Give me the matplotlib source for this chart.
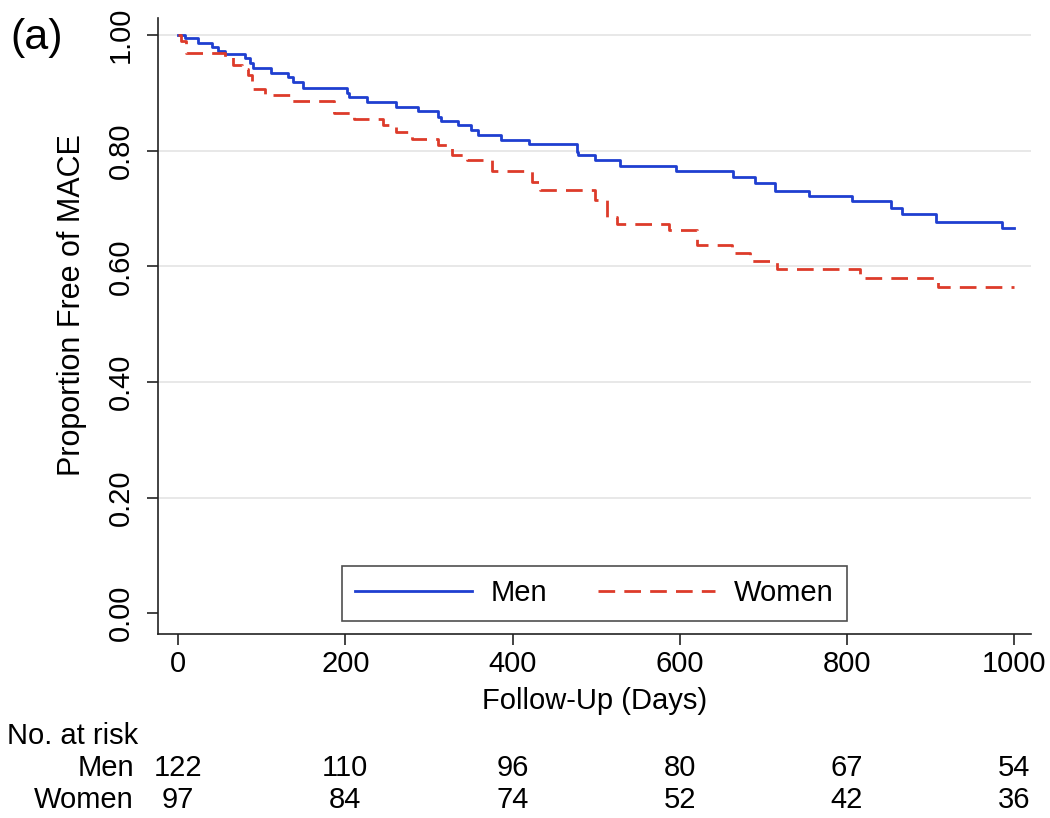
import matplotlib
matplotlib.use("Agg")
import matplotlib.pyplot as plt
import matplotlib.transforms as mtransforms
import numpy as np

plt.rcParams['font.family'] = ['Liberation Sans', 'DejaVu Sans']

# Kaplan-Meier steps (day of step, proportion free after it)
men_days = [0, 8, 24, 40, 48, 56, 80, 86, 90, 111, 132, 138, 149, 202, 204, 226,
            261, 287, 311, 314, 335, 350, 359, 386, 420, 477, 478, 499, 529, 596,
            664, 690, 714, 755, 806, 853, 866, 906, 985]
men_surv = [1.000, 0.994, 0.987, 0.980, 0.973, 0.967, 0.960, 0.952, 0.943, 0.934,
            0.927, 0.919, 0.909, 0.900, 0.892, 0.884, 0.876, 0.869, 0.858, 0.852,
            0.844, 0.836, 0.827, 0.818, 0.811, 0.798, 0.792, 0.784, 0.773, 0.765,
            0.754, 0.744, 0.731, 0.721, 0.713, 0.701, 0.690, 0.677, 0.666]

women_days = [0, 4, 9, 56, 66, 76, 84, 88, 90, 104, 136, 186, 210, 245, 261, 280,
              311, 328, 345, 375, 423, 433, 499, 513, 525, 587, 620, 662, 684, 716,
              816, 909]
women_surv = [1.000, 0.990, 0.969, 0.962, 0.949, 0.942, 0.931, 0.920, 0.906, 0.896,
              0.886, 0.865, 0.855, 0.845, 0.833, 0.821, 0.810, 0.792, 0.784, 0.765,
              0.745, 0.732, 0.715, 0.686, 0.674, 0.662, 0.637, 0.623, 0.609, 0.595,
              0.580, 0.565]

follow_up_end = 1000

risk_days = [0, 200, 400, 600, 800, 1000]
men_risk = [122, 110, 96, 80, 67, 54]
women_risk = [97, 84, 74, 52, 42, 36]

y_ticks = [0.0, 0.2, 0.4, 0.6, 0.8, 1.0]

men_color = '#1f3fd0'
women_color = '#dd3b2a'
fs = 21

fig = plt.figure(figsize=(10.5, 8.18), dpi=100)
ax = fig.add_axes([0.1505, 0.2249, 0.8314, 0.7535])

ax.step(np.append(men_days, follow_up_end), np.append(men_surv, men_surv[-1]),
        where='post', color=men_color, lw=2.0, label='Men')
ax.step(np.append(women_days, follow_up_end), np.append(women_surv, women_surv[-1]),
        where='post', color=women_color, lw=2.0, linestyle=(0, (6, 3.3)), label='Women')

ax.set_xlim(-24, 1020)
ax.set_ylim(-0.036, 1.030)
ax.set_xticks(risk_days)
ax.set_yticks(y_ticks)
ax.set_yticklabels(['%.2f' % v for v in y_ticks], rotation=90, va='center')

ax.yaxis.grid(True, color='#e4e4e4', lw=1.2)
ax.get_ygridlines()[0].set_visible(False)
ax.set_axisbelow(True)

for side in ['top', 'right']:
    ax.spines[side].set_visible(False)
for side in ['left', 'bottom']:
    ax.spines[side].set_linewidth(1.2)
    ax.spines[side].set_color('#222222')
ax.tick_params(axis='both', labelsize=fs, length=8, width=1.2, color='#222222')
ax.tick_params(axis='x', pad=3.5)
ax.tick_params(axis='y', pad=8.5)

ax.set_xlabel('Follow-Up (Days)', fontsize=fs)
ax.xaxis.label.set_va('center')
ax.xaxis.set_label_coords(0.5, -0.109)
ax.set_ylabel('Proportion Free of MACE', fontsize=fs + 1)
ax.yaxis.label.set_va('center')
ax.yaxis.set_label_coords(-0.0985, 0.534)

leg = ax.legend(loc='center', bbox_to_anchor=(0.566, 0.2745), bbox_transform=fig.transFigure,
                ncol=2, fontsize=fs, frameon=True, fancybox=False, handlelength=4.0,
                handletextpad=0.65, columnspacing=1.75, borderpad=0.45)
leg.get_frame().set_edgecolor('#222222')
leg.get_frame().set_linewidth(1.2)

fig.text(0.01, 0.953, '(a)', fontsize=31, va='center', ha='left')

# number at risk table under the axis
trans = mtransforms.blended_transform_factory(ax.transData, fig.transFigure)
fig.text(0.007, 0.100, 'No. at risk', fontsize=fs, va='center', ha='left')
fig.text(0.1276, 0.061, 'Men', fontsize=fs, va='center', ha='right')
fig.text(0.1276, 0.022, 'Women', fontsize=fs, va='center', ha='right')
for d, m, w in zip(risk_days, men_risk, women_risk):
    ax.text(d, 0.061, str(m), transform=trans, fontsize=fs, va='center', ha='center')
    ax.text(d, 0.022, str(w), transform=trans, fontsize=fs, va='center', ha='center')

fig.savefig('out.png', dpi=100)
